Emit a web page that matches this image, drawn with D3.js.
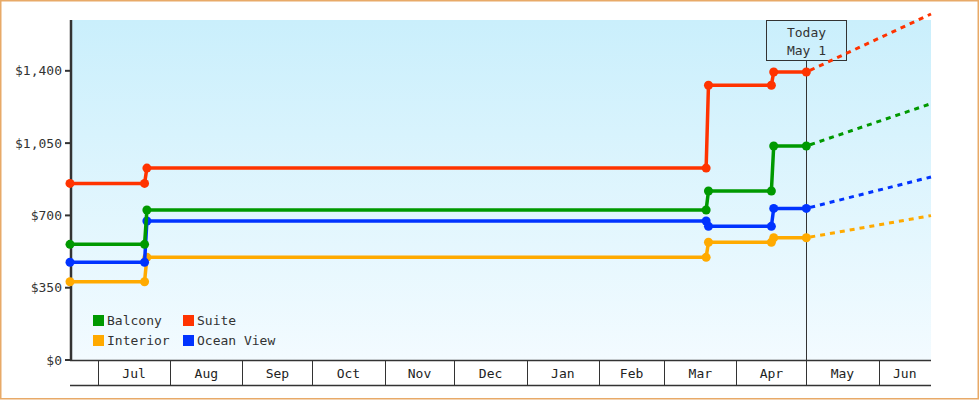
<!DOCTYPE html>
<html>
<head>
<meta charset="utf-8">
<script src="https://cdn.jsdelivr.net/npm/d3@7"></script>
<style>
    html, body { margin: 0; padding: 0; background: #fff; }
    svg { display: block; font-family: "DejaVu Sans Mono", monospace; font-size: 13px; }
</style>
</head>
<body>
<div id="chart"></div>
<script>
// price points (step changes)
var pointDates = ['2022-06-19', '2022-07-21', '2022-07-22', '2023-03-19', '2023-03-20', '2023-04-16', '2023-04-17', '2023-05-01'];
var balcony = [560, 560, 726, 726, 818, 818, 1036, 1036];
var suite = [855, 855, 929, 929, 1330, 1330, 1394, 1394];
var interior = [379, 379, 497, 497, 570, 570, 592, 592];
var oceanView = [473, 473, 673, 673, 647, 647, 734, 734];

// projection from today to the end of the axis
var projDates = ['2023-05-01', '2023-06-23T12:00Z'];
var balconyProj = [1036, 1241];
var suiteProj = [1394, 1675];
var interiorProj = [592, 699];
var oceanViewProj = [734, 886];

var seriesNames = ['Balcony', 'Suite', 'Interior', 'Ocean View'];
var seriesColors = ['#009900', '#ff3300', '#ffaa00', '#0033ff'];
var yTicks = [0, 350, 700, 1050, 1400];
var todayDate = '2023-05-01';
var todayLabel = ['Today', 'May 1'];
var xDomain = ['2022-06-19', '2023-06-23T12:00Z'];

var width = 980, height = 400;
var pLeft = 70, pRight = 931, pTop = 20, pBottom = 360;

var svg = d3.select('#chart')
    .append('svg')
    .attr('width', width)
    .attr('height', height);

var defs = svg.append('defs');
var grad = defs.append('linearGradient')
    .attr('id', 'bg')
    .attr('x1', 0).attr('y1', 0)
    .attr('x2', 0).attr('y2', 1);
grad.append('stop').attr('offset', '0%').attr('stop-color', '#caeffc');
grad.append('stop').attr('offset', '100%').attr('stop-color', '#f3fbff');

// outer frame
svg.append('rect')
    .attr('x', 0.75).attr('y', 0.75)
    .attr('width', width - 2.5).attr('height', height - 2)
    .style('fill', 'none')
    .style('stroke', '#e8aa68')
    .style('stroke-width', 1.5);

var x = d3.scaleUtc()
    .domain(xDomain.map(d3.isoParse))
    .range([pLeft, pRight]);

var y = d3.scaleLinear()
    .domain([0, 1646])
    .range([pBottom, pTop]);

svg.append('rect')
    .attr('x', pLeft + 1).attr('y', pTop)
    .attr('width', pRight - pLeft - 1).attr('height', pBottom - pTop)
    .style('fill', 'url(#bg)');

// x axis: month boxes
var xAxis = svg.append('g').style('stroke', '#333');
xAxis.append('line')
    .attr('x1', pLeft).attr('x2', pRight)
    .attr('y1', pBottom + 0.5).attr('y2', pBottom + 0.5)
    .style('stroke-width', 1.5);
xAxis.append('line')
    .attr('x1', pLeft).attr('x2', pRight)
    .attr('y1', pBottom + 25.5).attr('y2', pBottom + 25.5)
    .style('stroke-width', 1.5);

var d0 = x.domain()[0], d1 = x.domain()[1];
var months = d3.utcMonths(d0, d1);
xAxis.selectAll('line.sep')
    .data(months)
    .enter().append('line')
    .attr('class', 'sep')
    .attr('x1', function (d) { return Math.round(x(d)) + 0.5; })
    .attr('x2', function (d) { return Math.round(x(d)) + 0.5; })
    .attr('y1', pBottom).attr('y2', pBottom + 25)
    .style('stroke-width', 1);

var bounds = [d0].concat(months).concat([d1]);
var segs = [];
for (var i = 0; i < bounds.length - 1; i++) {
    segs.push({ a: bounds[i], b: bounds[i + 1] });
}
svg.append('g').selectAll('text')
    .data(segs.filter(function (s) { return x(s.b) - x(s.a) > 40; }))
    .enter().append('text')
    .attr('x', function (s) { return (x(s.a) + x(s.b)) / 2; })
    .attr('y', pBottom + 18)
    .attr('text-anchor', 'middle')
    .style('fill', '#222')
    .text(function (s) { return d3.utcFormat('%b')(s.a); });

// y axis
var yAxis = svg.append('g');
yAxis.append('line')
    .attr('x1', pLeft + 1).attr('x2', pLeft + 1)
    .attr('y1', pTop).attr('y2', pBottom + 1)
    .style('stroke', '#333')
    .style('stroke-width', 2.5);
yAxis.selectAll('line.tick')
    .data(yTicks)
    .enter().append('line')
    .attr('class', 'tick')
    .attr('x1', pLeft - 5).attr('x2', pLeft)
    .attr('y1', function (d) { return y(d); })
    .attr('y2', function (d) { return y(d); })
    .style('stroke', '#333')
    .style('stroke-width', 2);
yAxis.selectAll('text')
    .data(yTicks)
    .enter().append('text')
    .attr('x', pLeft - 8)
    .attr('y', function (d) { return y(d) + 4.5; })
    .attr('text-anchor', 'end')
    .style('fill', '#333')
    .text(function (d) { return d3.format('$,')(d); });

// today marker
var tx = Math.round(x(d3.isoParse(todayDate))) + 0.5;
svg.append('line')
    .attr('x1', tx).attr('x2', tx)
    .attr('y1', pTop + 40).attr('y2', pBottom)
    .style('stroke', '#333')
    .style('stroke-width', 1);
svg.append('rect')
    .attr('x', tx - 40).attr('y', pTop + 0.5)
    .attr('width', 80).attr('height', 40)
    .style('fill', 'none')
    .style('stroke', '#333')
    .style('stroke-width', 1);
svg.append('g').selectAll('text')
    .data(todayLabel)
    .enter().append('text')
    .attr('x', tx)
    .attr('y', function (d, i) { return pTop + 17 + i * 18; })
    .attr('text-anchor', 'middle')
    .style('fill', '#333')
    .text(function (d) { return d; });

// series
var values = [balcony, suite, interior, oceanView];
var projValues = [balconyProj, suiteProj, interiorProj, oceanViewProj];
var line = d3.line()
    .x(function (d) { return x(d.date); })
    .y(function (d) { return y(d.value); });

var order = [2, 3, 0, 1];
order.forEach(function (k) {
    var pts = pointDates.map(function (d, i) {
        return { date: d3.isoParse(d), value: values[k][i] };
    });
    var proj = projDates.map(function (d, i) {
        return { date: d3.isoParse(d), value: projValues[k][i] };
    });
    var g = svg.append('g');
    g.append('path')
        .datum(proj)
        .attr('d', line)
        .style('fill', 'none')
        .style('stroke', seriesColors[k])
        .style('stroke-width', 3)
        .style('stroke-dasharray', '5,5')
        .style('stroke-dashoffset', -4);
    g.append('path')
        .datum(pts)
        .attr('d', line)
        .style('fill', 'none')
        .style('stroke', seriesColors[k])
        .style('stroke-width', 3.5);
    g.selectAll('circle')
        .data(pts)
        .enter().append('circle')
        .attr('cx', function (d) { return x(d.date); })
        .attr('cy', function (d) { return y(d.value); })
        .attr('r', 4.5)
        .style('fill', seriesColors[k]);
});

// legend
var legend = svg.append('g').attr('transform', 'translate(93,315)');
var items = legend.selectAll('g')
    .data(seriesNames)
    .enter().append('g')
    .attr('transform', function (d, i) {
        return 'translate(' + (i % 2) * 90 + ',' + Math.floor(i / 2) * 20 + ')';
    });
items.append('rect')
    .attr('width', 11).attr('height', 11)
    .style('fill', function (d, i) { return seriesColors[i]; });
items.append('text')
    .attr('x', 14).attr('y', 10)
    .style('fill', '#333')
    .text(function (d) { return d; });
</script>
</body>
</html>
